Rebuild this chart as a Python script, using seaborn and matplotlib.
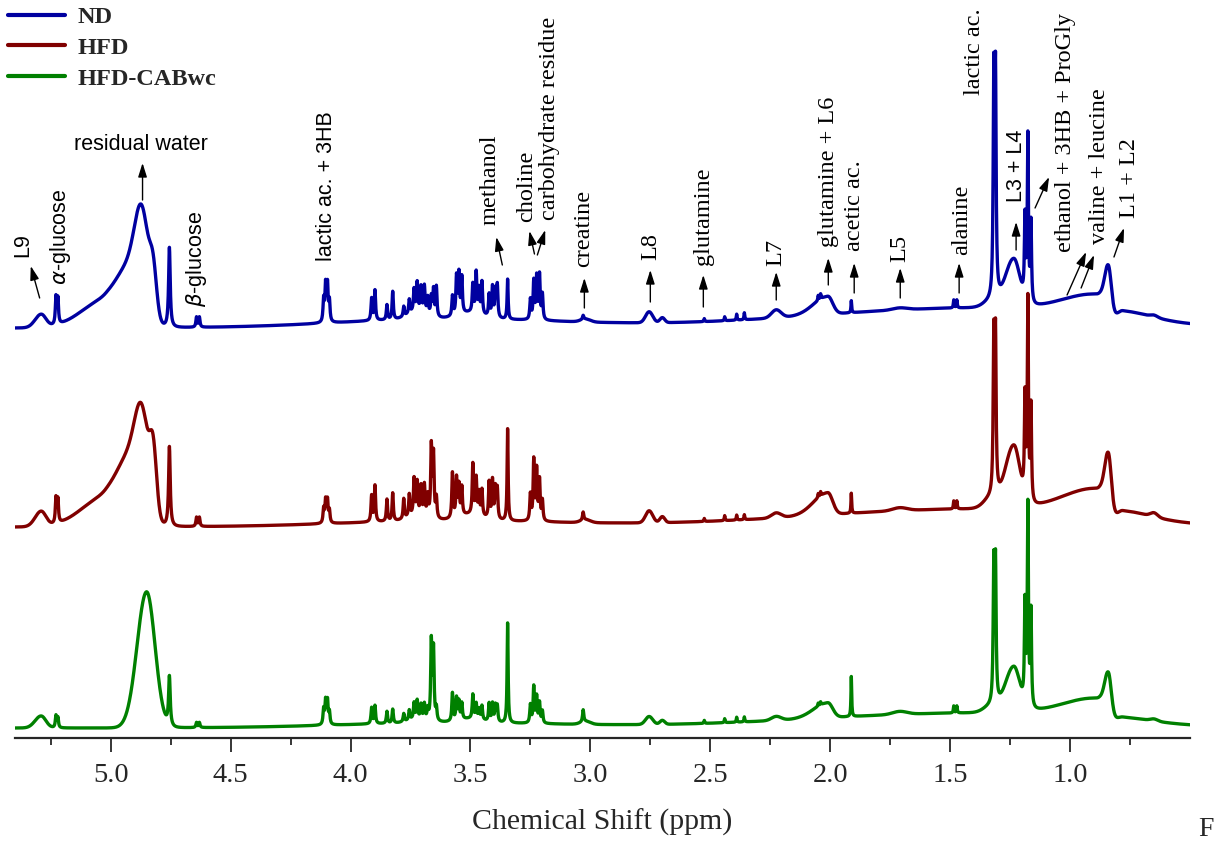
import numpy as np
import pandas as pd
import matplotlib
matplotlib.use("Agg")
import matplotlib.pyplot as plt
from matplotlib.font_manager import FontProperties
import seaborn as sns

# ---------------- data ----------------
samples = ["ND", "HFD", "HFD-CABwc"]
colors = ["#0000a0", "#800000", "#008000"]

# sharp resonances (ppm), half widths (ppm) and heights per sample
sharp_ppm = [5.228, 5.220, 4.755, 4.642, 4.630, 4.112, 4.104, 4.096, 4.088,
             3.912, 3.898, 3.848, 3.824, 3.778, 3.755, 3.735, 3.722, 3.706, 3.692,
             3.678, 3.663, 3.654, 3.642, 3.575, 3.558, 3.548, 3.536, 3.490, 3.476,
             3.464, 3.452, 3.422, 3.408, 3.396, 3.388, 3.345, 3.250, 3.236, 3.224,
             3.212, 3.200,
             3.030, 2.525, 2.440, 2.390, 2.358, 2.050, 2.040, 1.912, 1.485, 1.472,
             1.318, 1.311, 1.188, 1.176, 1.163]
sharp_hw = [0.003, 0.003, 0.004, 0.003, 0.003, 0.003, 0.003, 0.003, 0.003] + \
           [0.003] * 26 + [0.0025] + [0.003] * 5 + \
           [0.003, 0.002, 0.002, 0.002, 0.002, 0.002, 0.002, 0.0018, 0.002, 0.002,
            0.003, 0.003, 0.0028, 0.0028, 0.0028]
nd_sharp = [27, 25, 80, 10, 10, 22, 36, 36, 20,
            22, 30, 15, 28, 10, 14, 22, 28, 24, 26, 16, 18, 26, 30, 20, 38, 40, 36,
            28, 40, 24, 32, 22, 30, 26, 32, 40, 20, 38, 42, 44, 25,
            4, 3, 4, 6, 7, 5, 5, 12, 8, 8, 214, 214, 80, 165, 80]
hfd_sharp = [25, 23, 80, 9, 9, 14, 22, 22, 12,
             26, 36, 22, 28, 20, 22, 36, 32, 28, 30, 20, 70, 62, 20, 45, 38, 30, 28,
             50, 36, 22, 26, 36, 38, 30, 30, 92, 26, 60, 50, 40, 20,
             8, 3, 5, 5, 5, 4, 4, 20, 8, 8, 153, 153, 98, 200, 95]
cab_sharp = [12, 10, 49, 5, 5, 15, 23, 23, 12,
             16, 18, 12, 14, 8, 10, 16, 18, 14, 15, 10, 78, 70, 12, 28, 22, 18, 16,
             24, 15, 10, 14, 18, 18, 16, 16, 100, 18, 36, 26, 20, 12,
             12, 3, 4, 5, 5, 3, 3, 40, 7, 7, 134, 134, 98, 200, 95]

# broad features: centre, width on the high-ppm side, width on the low-ppm side
broad_ppm = [5.29, 5.02, 4.92, 4.868, 4.822, 4.85, 3.60, 3.72, 3.50, 3.02,
             2.755, 2.700, 2.225, 2.01, 1.71, 1.40, 1.33, 1.235, 0.88, 0.84,
             0.78, 0.65]
broad_shi = [0.025, 0.10, 0.05, 0.03, 0.014, 0.04, 0.45, 0.04, 0.05, 0.02,
             0.015, 0.01, 0.02, 0.06, 0.03, 0.70, 0.03, 0.035, 0.15, 0.015,
             0.02, 0.015]
broad_slo = [0.02, 0.06, 0.05, 0.03, 0.014, 0.035, 0.50, 0.04, 0.05, 0.02,
             0.015, 0.01, 0.02, 0.02, 0.03, 0.50, 0.03, 0.025, 0.03, 0.012,
             0.12, 0.015]
nd_broad = [13, 28, 52, 90, 37, 0, 9, 8, 6, 3, 11, 5, 8, 18, 2, 20, 6, 48, 22, 43, 8, 2]
hfd_broad = [15, 30, 60, 85, 55, 0, 6, 6, 6, 3, 12, 6, 5, 22, 3, 18, 10, 62, 28, 53, 8, 4]
cab_broad = [12, 0, 0, 0, 0, 136, 5, 4, 4, 3, 8, 4, 4, 15, 3, 15, 6, 45, 21, 39, 4, 2]

# ---------------- build spectra ----------------
ppm = np.linspace(5.40, 0.50, 4901)


def spectrum(sharp_h, broad_h):
    s = np.zeros_like(ppm)
    for c, w, h in zip(sharp_ppm, sharp_hw, sharp_h):
        s += h / (1.0 + ((ppm - c) / w) ** 2)
    for c, shi, slo, h in zip(broad_ppm, broad_shi, broad_slo, broad_h):
        sig = np.where(ppm >= c, shi, slo)
        s += h * np.exp(-0.5 * ((ppm - c) / sig) ** 2)
    return s


offsets = {"ND": 410, "HFD": 211, "HFD-CABwc": 10}   # vertical stacking
series = {"ND": (nd_sharp, nd_broad), "HFD": (hfd_sharp, hfd_broad),
          "HFD-CABwc": (cab_sharp, cab_broad)}
frames = []
for name in samples:
    sh, br = series[name]
    frames.append(pd.DataFrame({"ppm": ppm,
                                "y": offsets[name] + spectrum(sh, br),
                                "sample": name}))
df = pd.concat(frames, ignore_index=True)

# ---------------- plot ----------------
sns.set_style("white")
plt.rcParams["font.family"] = ["Liberation Serif", "DejaVu Serif"]
plt.rcParams["mathtext.fontset"] = "dejavusans"

W, H = 1217, 843
fig = plt.figure(figsize=(W / 100, H / 100), dpi=100)
ax = fig.add_axes([14.7 / W, (H - 738) / H, (1190 - 14.7) / W, 738 / H])

sns.lineplot(data=df, x="ppm", y="y", hue="sample", hue_order=samples,
             palette=colors, estimator=None, sort=False, linewidth=2.4, ax=ax)

ax.set_xlim(5.40, 0.50)
ax.set_ylim(0, 738)
for sp in ["top", "right", "left"]:
    ax.spines[sp].set_visible(False)
ax.spines["bottom"].set_linewidth(1.6)
ax.set_yticks([])
ax.set_ylabel("")
ax.set_xticks([5.0, 4.5, 4.0, 3.5, 3.0, 2.5, 2.0, 1.5, 1.0])
ax.set_xticklabels(["5.0", "4.5", "4.0", "3.5", "3.0", "2.5", "2.0", "1.5", "1.0"])
ax.set_xticks([5.25, 4.75, 4.25, 3.75, 3.25, 2.75, 2.25, 1.75, 1.25, 0.75], minor=True)
ax.tick_params(axis="x", which="major", direction="out", length=10, width=1.3,
               labelsize=20.5, pad=8, bottom=True)
ax.tick_params(axis="x", which="minor", direction="out", length=5, width=1.3, bottom=True)
ax.set_xlabel("Chemical Shift (ppm)", fontsize=21.5)
ax.xaxis.set_label_coords(0.5, (738 - 822) / 738)
ax.xaxis.label.set_va("center")

handles, labels = ax.get_legend_handles_labels()
for h in handles:
    h.set_linewidth(3)
leg = ax.legend(handles, labels, loc="upper left", bbox_to_anchor=(8 / W, 1 - 6 / H),
                bbox_transform=fig.transFigure, frameon=False,
                prop=FontProperties(family="Liberation Serif", weight="bold", size=17.5),
                handlelength=2.35, labelspacing=0.36, handletextpad=0.5,
                borderpad=0, borderaxespad=0)

SANS = ["Liberation Sans", "DejaVu Sans"]
SERIF = ["Liberation Serif", "DejaVu Serif"]

# label text: (text, ppm, y, family, size, rotation)
labels_txt = [
    ("L9", 5.367, 493, SANS, 15.5, 90),
    (r"$\alpha$-glucose", 5.208, 501, SANS, 15.5, 90),
    ("residual water", 4.875, 593, SANS, 15.5, 0),
    (r"$\beta$-glucose", 4.642, 479, SANS, 15.5, 90),
    ("lactic ac. + 3HB", 4.100, 552, SANS, 15.5, 90),
    ("methanol", 3.417, 558, SERIF, 17.5, 90),
    ("choline", 3.267, 552, SERIF, 17.5, 90),
    ("carbohydrate residue", 3.171, 620, SERIF, 17.5, 90),
    ("creatine", 3.029, 510, SERIF, 17.5, 90),
    ("L8", 2.750, 491, SERIF, 17.5, 90),
    ("glutamine", 2.529, 522, SERIF, 17.5, 90),
    ("L7", 2.225, 486, SERIF, 17.5, 90),
    ("glutamine + L6", 2.008, 566, SERIF, 17.5, 90),
    ("acetic ac.", 1.900, 532, SERIF, 17.5, 90),
    ("L5", 1.708, 490, SERIF, 17.5, 90),
    ("alanine", 1.454, 518, SERIF, 17.5, 90),
    ("lactic ac.", 1.400, 686, SERIF, 17.5, 90),
    ("L3 + L4", 1.225, 572, SANS, 15.5, 90),
    ("ethanol + 3HB + ProGly", 1.017, 606, SERIF, 17.5, 90),
    ("valine + leucine", 0.879, 572, SERIF, 17.5, 90),
    ("L1 + L2", 0.754, 560, SERIF, 17.5, 90),
]
for t, x, y, fam, sz, rot in labels_txt:
    ax.text(x, y, t, rotation=rot, ha="center", va="center", family=fam,
            fontsize=sz, color="black")

# arrows: (tail ppm, tail y, head ppm, head y)
arrows = [
    (5.296, 440, 5.333, 472), (4.867, 538, 4.867, 575), (3.367, 473, 3.392, 501),
    (3.233, 484, 3.254, 507), (3.221, 483, 3.188, 508), (3.025, 430, 3.025, 460),
    (2.750, 436, 2.750, 468), (2.529, 431, 2.529, 463), (2.225, 438, 2.225, 466),
    (2.008, 453, 2.008, 480), (1.900, 445, 1.900, 475), (1.708, 440, 1.708, 470),
    (1.4625, 445, 1.4625, 475), (1.225, 488, 1.225, 516), (1.146, 530, 1.0875, 561),
    (1.0125, 443, 0.933, 486), (0.954, 450, 0.900, 483), (0.817, 481, 0.775, 510),
]
for x0, y0, x1, y1 in arrows:
    ax.annotate("", xy=(x1, y1), xytext=(x0, y0),
                arrowprops=dict(arrowstyle="-|>,head_length=0.7,head_width=0.22",
                                mutation_scale=12, lw=1.0, color="black",
                                shrinkA=0, shrinkB=0))

fig.text(1198 / W, 1 - 830 / H, "F", fontsize=20, ha="left", va="center",
         family=SERIF)

fig.savefig("out.png", dpi=100)
